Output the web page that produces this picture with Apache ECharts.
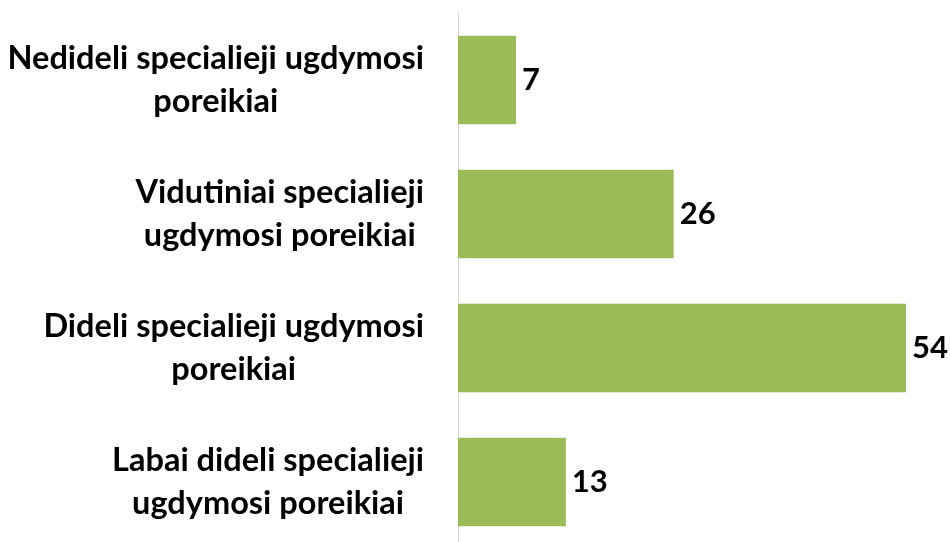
<!DOCTYPE html>
<html><head><meta charset="utf-8">
<script src="https://cdn.jsdelivr.net/npm/echarts@6/dist/echarts.min.js"></script>
<style>html,body{margin:0;padding:0;background:#fff;overflow:hidden}#c{width:950px;height:549px}</style>
</head><body><div id="c"></div>
<script>
const categories = [
  "Nedideli specialieji ugdymosi\nporeikiai",
  "Vidutiniai specialieji\nugdymosi poreikiai",
  "Dideli specialieji ugdymosi\nporeikiai",
  "Labai dideli specialieji\nugdymosi poreikiai"
];
const values = [7, 26, 54, 13];

const FONT = 'Lato';
const chart = echarts.init(document.getElementById('c'));
chart.setOption({
  animation: false,
  grid: { left: 458, right: 44, top: 13, bottom: 0, containLabel: false },
  xAxis: { type: 'value', min: 0, max: 54, show: false },
  yAxis: {
    type: 'category', data: categories, inverse: true,
    axisLine: { show: true, lineStyle: { color: '#D9D9D9', width: 1 } },
    axisTick: { show: false },
    axisLabel: {
      margin: 34, align: 'right',
      formatter: function (v) { return v.split('\n').map(function (l) { return '{c|' + l + '}'; }).join('\n'); },
      rich: { c: { align: 'center', fontFamily: FONT, fontWeight: 'bold', fontSize: 32.5, color: '#000', lineHeight: 43 } }
    }
  },
  series: [{
    type: 'bar', data: values, barCategoryGap: '34%',
    itemStyle: { color: '#9BBB59' },
    label: { show: true, position: 'right', distance: 6, fontFamily: FONT, fontWeight: 'bold', fontSize: 31, color: '#000' }
  }]
});
</script></body></html>
